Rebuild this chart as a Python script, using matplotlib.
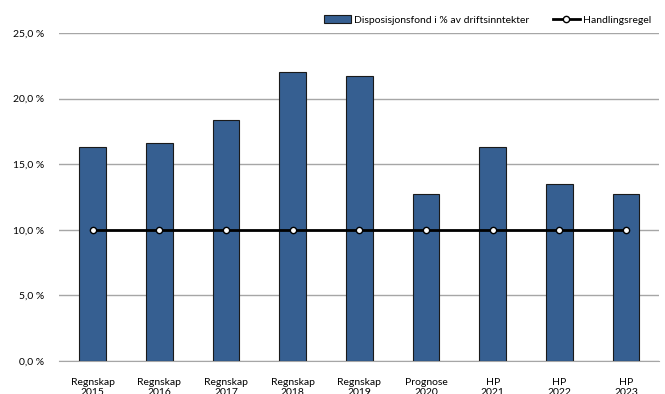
import matplotlib.pyplot as plt
import numpy as np

categories = ['Regnskap\n2015', 'Regnskap\n2016', 'Regnskap\n2017', 'Regnskap\n2018',
              'Regnskap\n2019', 'Prognose\n2020', 'HP\n2021', 'HP\n2022', 'HP\n2023']
fond = [16.3, 16.6, 18.4, 22.0, 21.7, 12.75, 16.3, 13.5, 12.75]
regel = [10.0] * 9
y_ticks = [0, 5, 10, 15, 20, 25]

plt.rcParams['font.family'] = ['Lato', 'DejaVu Sans']

fig = plt.figure(figsize=(6.65, 3.94), dpi=100)
ax = fig.add_axes([59.3 / 665, 1 - 361 / 394, 600 / 665, 328 / 394])

x = np.arange(len(categories))
bars = ax.bar(x, fond, width=0.4, color='#365F91', edgecolor='#1a1a1a', linewidth=0.8,
              label='Disposisjonsfond i % av driftsinntekter', zorder=3)
line, = ax.plot(x, regel, color='black', lw=2, marker='o', markersize=4.5,
                markerfacecolor='white', markeredgecolor='black', markeredgewidth=1,
                label='Handlingsregel', zorder=4)

ax.set_xlim(-0.5, len(categories) - 0.5)
ax.set_ylim(0, 25)
ax.set_yticks(y_ticks)
ax.set_yticklabels([f'{v:.1f} %'.replace('.', ',') for v in y_ticks], fontsize=7.5)
ax.set_xticks(x)
ax.set_xticklabels(categories, fontsize=7.5, linespacing=1.25)
ax.tick_params(axis='x', length=0, pad=12)
ax.tick_params(axis='y', length=0, pad=11)
ax.grid(axis='y', color='#a6a6a6', lw=1, zorder=0)
for s in ['top', 'right', 'left']:
    ax.spines[s].set_visible(False)
ax.spines['bottom'].set_color('#a6a6a6')

ax.legend([bars, line], [bars.get_label(), line.get_label()],
          loc='lower right', bbox_to_anchor=(1.0, 1.0), ncol=2, frameon=False,
          fontsize=7.5, handlelength=2.6, handleheight=0.7, columnspacing=2.2,
          borderaxespad=0.4, handletextpad=0.3)

fig.savefig('out.png', dpi=100)
